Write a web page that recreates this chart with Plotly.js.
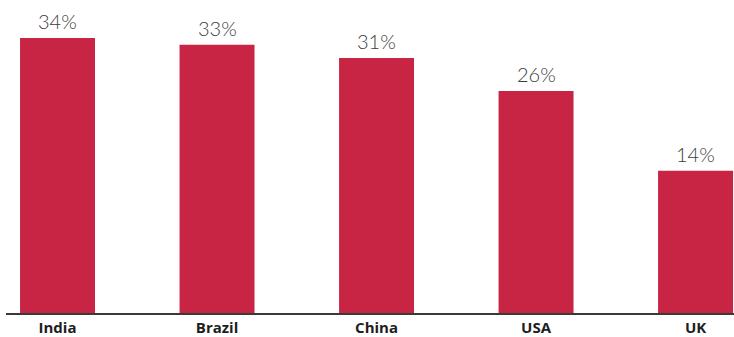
<!DOCTYPE html>
<html>
<head>
<meta charset="utf-8">
<script src="https://cdn.plot.ly/plotly-3.0.1.min.js"></script>
<style>
  html, body { margin: 0; padding: 0; background: #fff; }
  #chart { width: 734px; height: 337px; }
</style>
</head>
<body>
<div id="chart"></div>
<script>
// Share by country, in percent
const countries = ['India', 'Brazil', 'China', 'USA', 'UK'];
const shares = [34, 33, 31, 26, 14];

// The value axis is cut below zero so the columns sit on the baseline
const axisFloor = -7.45;
const axisTop = 39.73;

const barColor = '#C82545';

const trace = {
  type: 'bar',
  x: countries,
  y: shares.map(v => v - axisFloor),
  base: axisFloor,
  marker: { color: barColor },
  hoverinfo: 'skip'
};

const labels = countries.map((c, i) => ({
  x: c,
  y: shares[i],
  text: shares[i] + '%',
  showarrow: false,
  xanchor: 'center',
  yanchor: 'bottom',
  yshift: 3,
  font: { family: 'Lato, "Open Sans", sans-serif', size: 20, color: '#3d3d3d', weight: 300 }
}));

const layout = {
  width: 734,
  height: 337,
  margin: { l: 6, r: 0, t: 0, b: 24 },
  paper_bgcolor: '#fff',
  plot_bgcolor: '#fff',
  bargap: 0.53,
  showlegend: false,
  xaxis: {
    range: [-0.323, 4.241],
    showline: true,
    linecolor: '#3a3a3a',
    linewidth: 1.5,
    ticks: '',
    showgrid: false,
    zeroline: false,
    tickfont: { family: '"Open Sans", Lato, sans-serif', size: 15, color: '#1e1e1e', weight: 700 },
    ticklabelstandoff: 0
  },
  yaxis: {
    range: [axisFloor, axisTop],
    visible: false,
    showgrid: false,
    zeroline: false
  },
  annotations: labels
};

Plotly.newPlot('chart', [trace], layout, { displayModeBar: false, staticPlot: true });
</script>
</body>
</html>
